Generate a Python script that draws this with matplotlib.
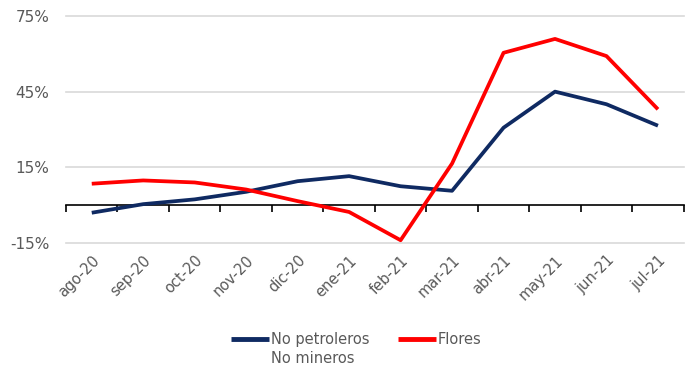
import matplotlib
matplotlib.use("Agg")
import matplotlib.pyplot as plt
from matplotlib.ticker import FixedLocator

months = ["ago-20", "sep-20", "oct-20", "nov-20", "dic-20", "ene-21",
          "feb-21", "mar-21", "abr-21", "may-21", "jun-21", "jul-21"]
no_petroleros = [-3.0, 0.4, 2.3, 5.3, 9.5, 11.5, 7.5, 5.7, 30.7, 45.0, 40.0, 31.5]
flores = [8.5, 9.8, 9.0, 6.2, 1.6, -2.7, -13.9, 16.5, 60.4, 65.9, 59.1, 38.0]
yticks = [-15, 15, 45, 75]

label_color = "#595959"
navy = "#0f2a62"
red = "#ff0000"

plt.rcParams["font.family"] = ["DejaVu Sans"]

fig = plt.figure(figsize=(6.92, 3.71), dpi=100)
ax = fig.add_axes([0.0954, 0.345, 0.8926, 0.612])

x = list(range(len(months)))
ax.plot(x, no_petroleros, color=navy, lw=2.7, solid_capstyle="butt",
        solid_joinstyle="round", label="No petroleros", zorder=3)
ax.plot(x, flores, color=red, lw=2.7, solid_capstyle="butt",
        solid_joinstyle="round", label="Flores", zorder=3)

ax.set_xlim(-0.5, len(months) - 0.5)
ax.set_ylim(yticks[0], yticks[-1])
ax.set_yticks(yticks)
ax.set_yticklabels([f"{v}%" for v in yticks], color=label_color, fontsize=11)
ax.tick_params(axis="y", length=0, pad=12)
ax.yaxis.grid(True, color="#d9d9d9", lw=1.2)
for gl in ax.get_ygridlines():
    gl.set_clip_on(False)
ax.set_axisbelow(True)

for side in ("left", "right", "top"):
    ax.spines[side].set_visible(False)

# Category axis crosses at zero, with tick marks between categories
ax.spines["bottom"].set_position(("data", 0))
ax.spines["bottom"].set_color("black")
ax.spines["bottom"].set_linewidth(1.2)
ax.xaxis.set_major_locator(FixedLocator([i - 0.5 for i in range(len(months) + 1)]))
ax.tick_params(axis="x", direction="out", length=5, width=1.2, color="black",
               labelbottom=False)

# Month labels sit at the bottom of the plot area
sec = ax.secondary_xaxis("bottom")
sec.set_xticks(x)
sec.set_xticklabels(months, rotation=45, ha="right", rotation_mode="anchor",
                    color=label_color, fontsize=10.5)
sec.tick_params(length=0, pad=7)
sec.spines["bottom"].set_visible(False)

leg = fig.legend(loc="upper center", bbox_to_anchor=(0.515, 0.14), ncol=2,
                 frameon=False, fontsize=10.5, handlelength=2.6,
                 handletextpad=0.1, columnspacing=2.0,
                 labelcolor=label_color)
for h in leg.get_lines():
    h.set_linewidth(3.5)

# Second line of the first legend label
fig.canvas.draw()
t0 = leg.get_texts()[0]
bb = t0.get_window_extent()
fx, fy = fig.transFigure.inverted().transform((bb.x0, bb.y0))
fig.text(fx, fy - 0.01, "No mineros", ha="left", va="top",
         color=label_color, fontsize=10.5)

fig.savefig("out.png", dpi=100)
